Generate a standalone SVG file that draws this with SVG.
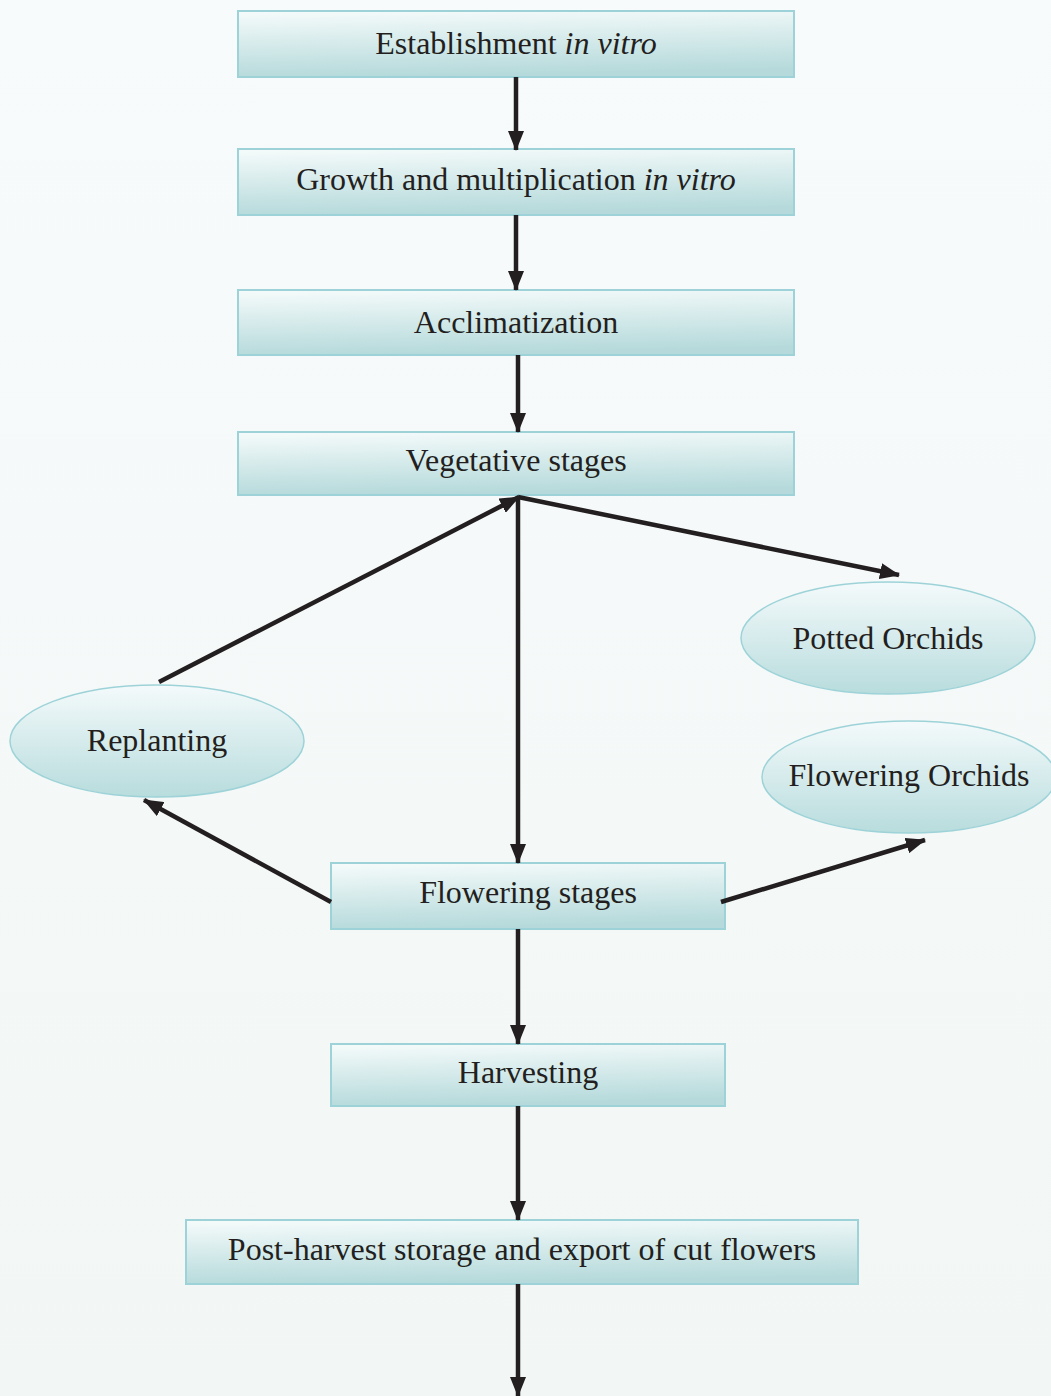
<svg xmlns="http://www.w3.org/2000/svg" width="1051" height="1396" viewBox="0 0 1051 1396">
<defs>
<linearGradient id="bg" x1="0" y1="0" x2="0" y2="1">
<stop offset="0" stop-color="#f7fbfc"/>
<stop offset="1" stop-color="#f2f6f4"/>
</linearGradient>
<linearGradient id="box" x1="0" y1="0" x2="0.15" y2="1">
<stop offset="0" stop-color="#f6fbfb"/>
<stop offset="1" stop-color="#b6dadb"/>
</linearGradient>
<linearGradient id="ell" x1="0" y1="0" x2="0" y2="1">
<stop offset="0" stop-color="#f4fafb"/>
<stop offset="1" stop-color="#b8dcdd"/>
</linearGradient>
<marker id="ah" markerWidth="20" markerHeight="16" refX="19" refY="8" orient="auto" markerUnits="userSpaceOnUse">
<path d="M0,0 L20,8 L0,16 Z" fill="#231f20"/>
</marker>
<style>
.b{fill:url(#box);stroke:#9dd3d8;stroke-width:2}
.e{fill:url(#ell);stroke:#9dd3d8;stroke-width:1.5}
.t{font-family:"Liberation Serif","Times New Roman",serif;font-size:32px;fill:#231f20;text-anchor:middle}
.c{stroke:#231f20;stroke-width:4.5;fill:none;marker-end:url(#ah)}
</style>
</defs>
<rect x="0" y="0" width="1051" height="1396" fill="url(#bg)"/>
<g id="n1"><rect class="b" x="238" y="11" width="556" height="66"/><text class="t" x="516" y="54">Establishment <tspan font-style="italic">in vitro</tspan></text></g>
<g id="n2"><rect class="b" x="238" y="149" width="556" height="66"/><text class="t" x="516" y="190">Growth and multiplication <tspan font-style="italic">in vitro</tspan></text></g>
<g id="n3"><rect class="b" x="238" y="290" width="556" height="65"/><text class="t" x="516" y="333">Acclimatization</text></g>
<g id="n4"><rect class="b" x="238" y="432" width="556" height="63"/><text class="t" x="516" y="471">Vegetative stages</text></g>
<g id="n5"><ellipse class="e" cx="888" cy="638" rx="147" ry="56"/><text class="t" x="888" y="649">Potted Orchids</text></g>
<g id="n6"><ellipse class="e" cx="157" cy="741" rx="147" ry="56"/><text class="t" x="157" y="751">Replanting</text></g>
<g id="n7"><ellipse class="e" cx="909" cy="777" rx="147" ry="56"/><text class="t" x="909" y="786">Flowering Orchids</text></g>
<g id="n8"><rect class="b" x="331" y="863" width="394" height="66"/><text class="t" x="528" y="903">Flowering stages</text></g>
<g id="n9"><rect class="b" x="331" y="1044" width="394" height="62"/><text class="t" x="528" y="1083">Harvesting</text></g>
<g id="n10"><rect class="b" x="186" y="1220" width="672" height="64"/><text class="t" x="522" y="1260">Post-harvest storage and export of cut flowers</text></g>
<g id="connectors">
<line class="c" x1="516" y1="77" x2="516" y2="150"/>
<line class="c" x1="516" y1="215" x2="516" y2="290"/>
<line class="c" x1="518" y1="355" x2="518" y2="432"/>
<line class="c" x1="518" y1="496" x2="518" y2="863"/>
<line class="c" x1="518" y1="497" x2="899" y2="575"/>
<line class="c" x1="159" y1="682" x2="519" y2="497"/>
<line class="c" x1="331" y1="902" x2="144" y2="800"/>
<line class="c" x1="721" y1="902" x2="925" y2="840"/>
<line class="c" x1="518" y1="929" x2="518" y2="1044"/>
<line class="c" x1="518" y1="1106" x2="518" y2="1220"/>
<line class="c" x1="518" y1="1284" x2="518" y2="1396"/>
</g>
</svg>
